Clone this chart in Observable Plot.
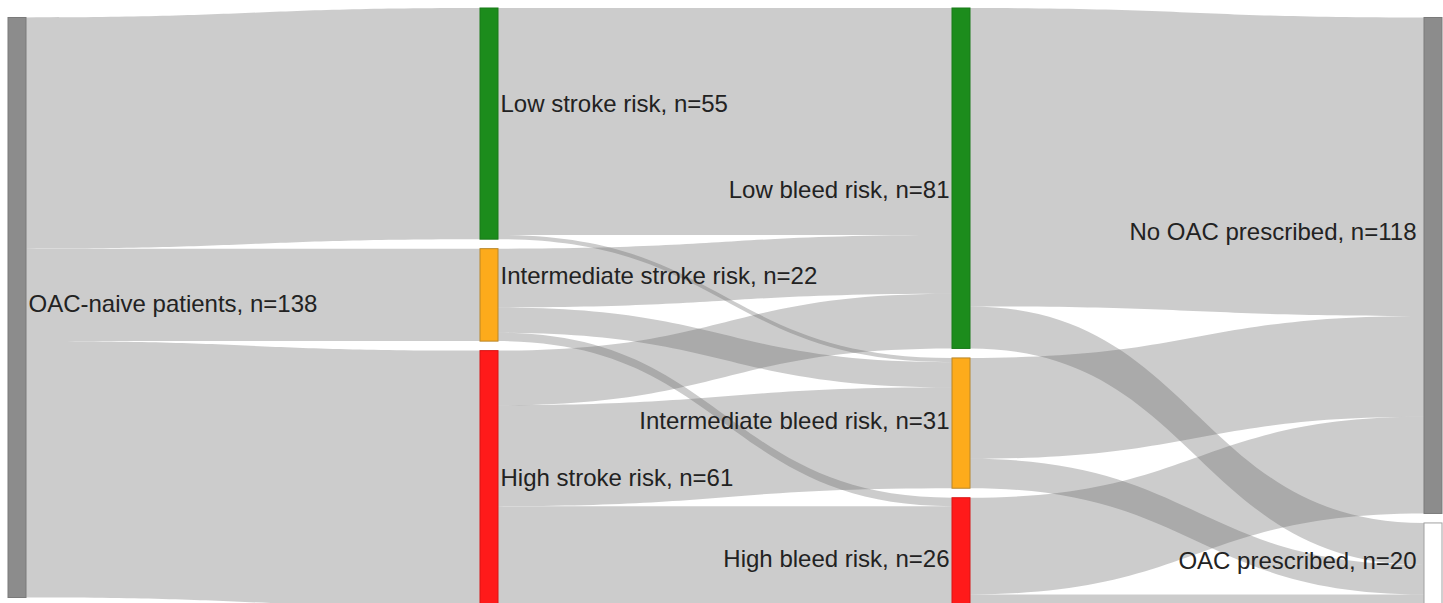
<!DOCTYPE html>
<html><head><meta charset="utf-8">
<script src="https://cdn.jsdelivr.net/npm/d3@7"></script>
<script src="https://cdn.jsdelivr.net/npm/@observablehq/plot@0.6"></script>
<style>html,body{margin:0;padding:0;background:#fff;overflow:hidden}</style>
</head><body><div id="chart"></div>
<script>
// ---- data ----
const nodeNames = ["OAC-naive patients", "Low stroke risk", "Intermediate stroke risk", "High stroke risk",
  "Low bleed risk", "Intermediate bleed risk", "High bleed risk", "No OAC prescribed", "OAC prescribed"];
const nodeColumns = [0, 1, 1, 1, 2, 2, 2, 3, 3];
const linkSources = [0, 0, 0, 1, 1, 2, 2, 2, 3, 3, 3, 4, 4, 5, 5, 6, 6];
const linkTargets = [1, 2, 3, 4, 5, 4, 5, 6, 4, 5, 6, 7, 8, 7, 8, 7, 8];
const linkValues  = [55, 22, 61, 54, 1, 14, 6, 2, 13, 24, 24, 71, 10, 24, 7, 23, 3];

// ---- styles ----
const nodeFill = {
  "OAC-naive patients": "#8c8c8c", "No OAC prescribed": "#8c8c8c", "OAC prescribed": "#ffffff",
  "Low stroke risk": "#1c8c1c", "Low bleed risk": "#1c8c1c",
  "Intermediate stroke risk": "#fdab1b", "Intermediate bleed risk": "#fdab1b",
  "High stroke risk": "#ff1a1a", "High bleed risk": "#ff1a1a"
};
const nodeStroke = {
  "OAC-naive patients": "#7a7a7a", "No OAC prescribed": "#7a7a7a", "OAC prescribed": "#a0a0a0",
  "Low stroke risk": "#187a18", "Low bleed risk": "#187a18",
  "Intermediate stroke risk": "#b8862a", "Intermediate bleed risk": "#b8862a",
  "High stroke risk": "#d81515", "High bleed risk": "#d81515"
};
const labelShiftPx = {
  "OAC-naive patients": -4, "Low stroke risk": -20, "Intermediate stroke risk": -19, "High stroke risk": -1,
  "Low bleed risk": 12, "Intermediate bleed risk": -2, "High bleed risk": 6,
  "No OAC prescribed": -34, "OAC prescribed": -4
};
const GAP = 2.26;            // gap between nodes, in patient units
const nodeW = 18 / 472;      // node width, in column units
const Y0 = 8, Y1 = 607;      // vertical pixel range

// ---- layout ----
const nodes = nodeNames.map((name, i) => ({
  i, name, col: nodeColumns[i],
  inV: d3.sum(linkValues.filter((v, k) => linkTargets[k] === i)),
  outV: d3.sum(linkValues.filter((v, k) => linkSources[k] === i))
}));
nodes.forEach(n => n.value = Math.max(n.inV, n.outV));
const cols = d3.groups(nodes, n => n.col).sort((a, b) => a[0] - b[0]);
const colExtent = cols.map(([c, ns]) => d3.sum(ns, n => n.value) + (ns.length - 1) * GAP);
const ext = d3.max(colExtent);
cols.forEach(([c, ns], ci) => {
  let y = Math.min(GAP, ext - colExtent[ci]);
  ns.forEach(n => { n.y0 = y; n.y1 = y + n.value; y = n.y1 + GAP; });
});
const links = linkValues.map((v, k) => ({k, s: nodes[linkSources[k]], t: nodes[linkTargets[k]], v}));
nodes.forEach(n => {
  let y = n.y0;
  links.filter(l => l.s === n).sort((a, b) => a.t.i - b.t.i).forEach(l => { l.sy = y; y += l.v; });
  y = n.y0;
  links.filter(l => l.t === n).sort((a, b) => a.s.i - b.s.i).forEach(l => { l.ty = y; y += l.v; });
});
const linkRows = links.flatMap(l => [
  {id: l.k, x: l.s.col + nodeW, y1: l.sy, y2: l.sy + l.v},
  {id: l.k, x: l.t.col, y1: l.ty, y2: l.ty + l.v}
]);
const pxPerUnit = (Y1 - Y0) / ext;
const label = n => `${n.name}, n=${n.value}`;
const labelY = n => (n.y0 + n.y1) / 2 + labelShiftPx[n.name] / pxPerUnit;

const chart = Plot.plot({
  width: 1443, height: 603, margin: 0,
  x: {domain: [0, 3], range: [8, 1424], axis: null},
  y: {domain: [0, ext], range: [Y0, Y1], axis: null},
  color: {type: "identity"},
  style: {fontFamily: "'Liberation Sans', Arial, sans-serif", background: "#fff"},
  marks: [
    Plot.area(linkRows, {x1: "x", x2: "x", y1: "y1", y2: "y2", z: "id", curve: "bump-x",
      fill: "#666", fillOpacity: 0.333}),
    Plot.rect(nodes, {x1: "col", x2: n => n.col + nodeW, y1: "y0", y2: "y1",
      fill: n => nodeFill[n.name], stroke: n => nodeStroke[n.name], strokeWidth: 1}),
    Plot.text(nodes.filter(n => n.col <= 1), {x: n => n.col + nodeW, y: labelY, text: label,
      textAnchor: "start", dx: 2, fontSize: 24, fill: "#222"}),
    Plot.text(nodes.filter(n => n.col === 2), {x: "col", y: labelY, text: label,
      textAnchor: "end", dx: -3, fontSize: 24, fill: "#222"}),
    Plot.text(nodes.filter(n => n.col === 3), {x: "col", y: labelY, text: label,
      textAnchor: "end", dx: -8, fontSize: 24, fill: "#222"})
  ]
});
document.getElementById("chart").appendChild(chart);
</script>
</body></html>
